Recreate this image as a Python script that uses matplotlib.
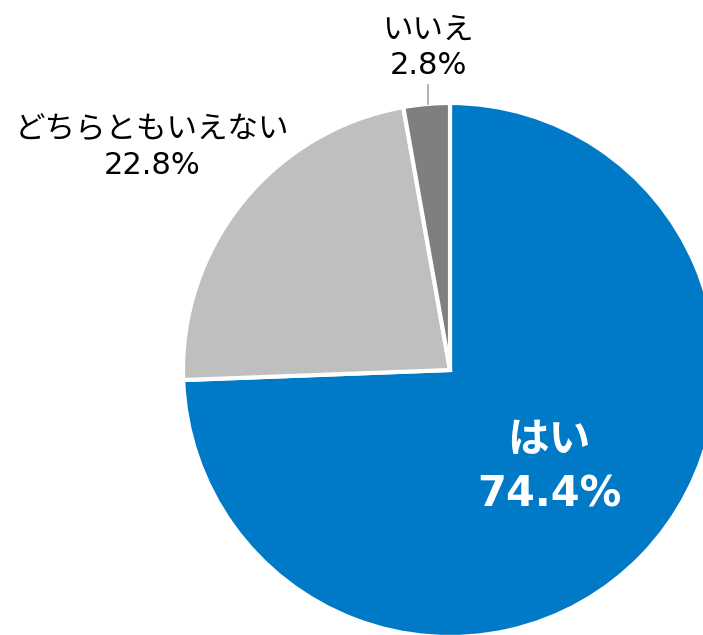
import matplotlib.pyplot as plt

# Latin digits in DejaVu (wide, close to the original), kana fall back to Noto CJK
plt.rcParams['font.family'] = ['DejaVu Sans', 'Noto Sans CJK JP']

labels = ['はい', 'どちらともいえない', 'いいえ']
values = [74.4, 22.8, 2.8]
colors = ['#0079C6', '#BFBFBF', '#7F7F7F']

W, H = 703, 635
fig = plt.figure(figsize=(W / 100, H / 100), dpi=100)
ax = fig.add_axes([0, 0, 1, 1])

cx, cy, r = 450, H - 370, 267
ax.pie(values, colors=colors, startangle=90, counterclock=False,
       center=(cx, cy), radius=r, frame=True,
       wedgeprops=dict(edgecolor='white', linewidth=3))
ax.set_xlim(0, W)
ax.set_ylim(0, H)
ax.set_aspect('equal')
ax.axis('off')

# labels
ax.text(549, H - 467, f'{labels[0]}\n{values[0]}%', color='white',
        fontsize=30, fontweight='bold', ha='center', va='center',
        linespacing=1.4)
ax.text(152, H - 148, f'{labels[1]}\n{values[1]}%', color='black',
        fontsize=22, ha='center', va='center', linespacing=1.3)
ax.text(428, H - 48, f'{labels[2]}\n{values[2]}%', color='black',
        fontsize=22, ha='center', va='center', linespacing=1.3)
ax.plot([428, 428], [H - 85, H - 104], color='#A6A6A6', lw=1.2)

fig.savefig('out.png', dpi=100)
